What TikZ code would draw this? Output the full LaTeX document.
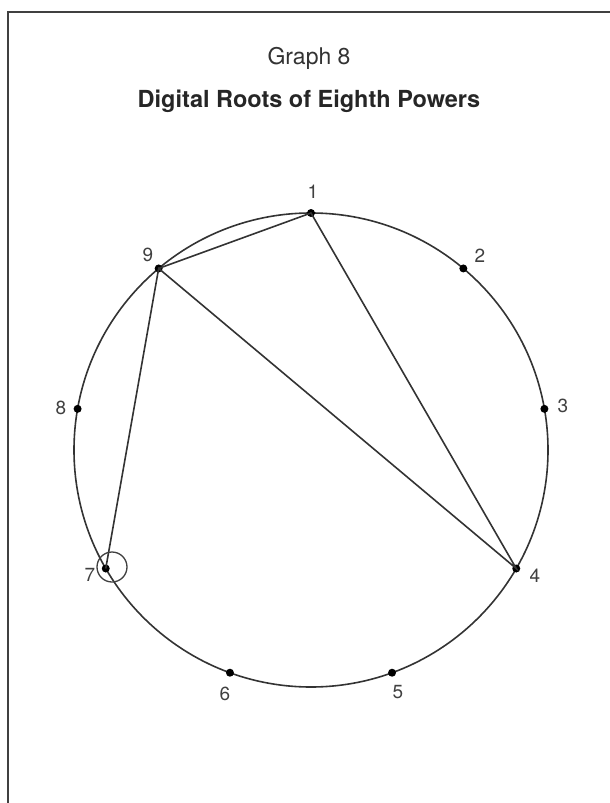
\documentclass[tikz,border=0pt]{standalone}
\usepackage{fontspec}
\setmainfont{TeX Gyre Heros}
\usetikzlibrary{calc}
\begin{document}
\begin{tikzpicture}[x=1pt,y=1pt,
  ink/.style={draw=black!80, line width=1.6pt},
  dot/.style={circle, fill=black, inner sep=0pt, minimum size=8pt},
  num/.style={text=black!75, font=\fontsize{19}{19}\selectfont, inner sep=0pt}]
\useasboundingbox (0,-803) rectangle (610,0);
\draw[draw=black!75, line width=2pt] (8,-803) |- (610,-12);
\node[text=black!80, font=\fontsize{23}{23}\selectfont] (t1) at (309,-58) {Graph 8};
\node[text=black!85, font=\fontsize{23.5}{23.5}\selectfont\bfseries] (t2) at (309,-101) {Digital Roots of Eighth Powers};
\coordinate (c) at (311,-450);
\draw[ink] (c) circle (237);
\foreach \i/\a in {1/90,2/50,3/10,4/-30,5/-70,6/-110,7/-150,8/170,9/130}
  \node[dot] (n\i) at ($(c)+(\a:237)$) {};
\node[num] (l1) at (313,-192) {1};
\node[num] (l2) at (480,-256) {2};
\node[num] (l3) at (563,-406) {3};
\node[num] (l4) at (535,-576) {4};
\node[num] (l5) at (398,-692) {5};
\node[num] (l6) at (225,-694) {6};
\node[num] (l7) at (90,-575) {7};
\node[num] (l8) at (61,-408) {8};
\node[num] (l9) at (148,-255) {9};
\draw[ink] (n9.center) -- (n1.center) -- (n4.center) -- (n9.center) -- (n7.center);
\draw[draw=black!75, line width=1.3pt] (112,-567) circle (15);
\end{tikzpicture}
\end{document}
